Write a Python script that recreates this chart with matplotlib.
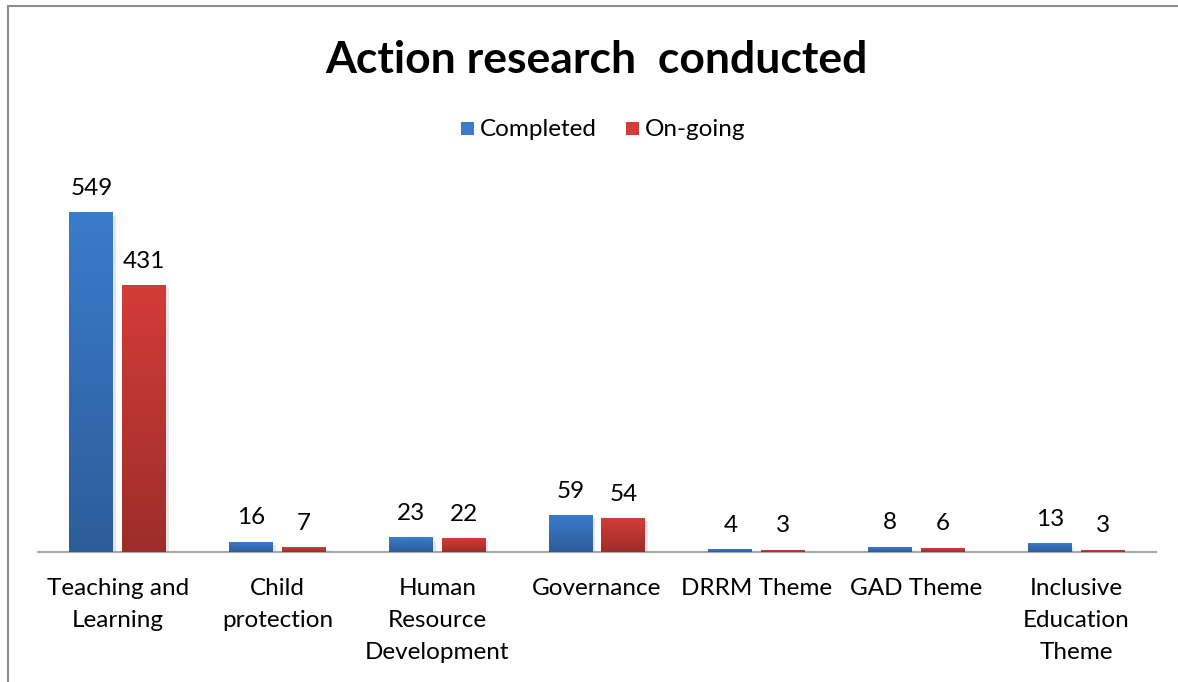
import numpy as np
import matplotlib
matplotlib.use("Agg")
import matplotlib.pyplot as plt
from matplotlib.colors import LinearSegmentedColormap
from matplotlib.patches import Rectangle
import matplotlib.patheffects as pe

plt.rcParams['font.family'] = ['Lato', 'DejaVu Sans']

categories = ["Teaching and\nLearning", "Child\nprotection", "Human\nResource\nDevelopment",
              "Governance", "DRRM Theme", "GAD Theme", "Inclusive\nEducation\nTheme"]
completed = [549, 16, 23, 59, 4, 8, 13]
ongoing = [431, 7, 22, 54, 3, 6, 3]

W, H = 1178, 682
fig = plt.figure(figsize=(W / 100, H / 100), dpi=100)
ax = fig.add_axes([38 / W, (H - 552) / H, (1156 - 38) / W, (552 - 180) / H])

# chart frame (cut off at right/bottom like the screenshot)
fig.patches.append(Rectangle((8 / W, -0.05), 1.1, 1 - 6 / H + 0.05, transform=fig.transFigure,
                             fill=False, edgecolor="#8c8c8c", lw=1.5))

x = np.arange(len(categories))
bw = 0.275
off = 0.1655

blue = LinearSegmentedColormap.from_list("b", ["#2c5d9a", "#3b7bcb"])
red = LinearSegmentedColormap.from_list("r", ["#9d2d2a", "#d23c38"])
grad = np.linspace(0, 1, 100).reshape(-1, 1)

shadow = [pe.SimplePatchShadow(offset=(2, -2), alpha=0.2, shadow_rgbFace="#888888")]
for vals, dx, cmap, c in [(completed, -off, blue, "#3b7bcb"), (ongoing, off, red, "#d23c38")]:
    bars = ax.bar(x + dx, vals, bw, color=c, path_effects=shadow, zorder=2)
    for b, v in zip(bars, vals):
        x0, h = b.get_x(), b.get_height()
        ax.imshow(grad, extent=[x0, x0 + b.get_width(), 0, h], origin="lower",
                  aspect="auto", cmap=cmap, zorder=3)
        ax.annotate(str(v), (x0 + b.get_width() / 2, h), xytext=(0, 10),
                    textcoords="offset points", ha="center", va="bottom", fontsize=17.5)

ax.set_xlim(-0.5, len(categories) - 0.5)
ax.set_ylim(0, 602)
ax.set_yticks([])
ax.set_xticks(x)
ax.set_xticklabels(categories, fontsize=17.5, linespacing=1.63, va="top")
ax.tick_params(axis="x", length=0, pad=19)
for s in ["top", "left", "right"]:
    ax.spines[s].set_visible(False)
ax.spines["bottom"].set_color("#a6a6a6")
ax.spines["bottom"].set_linewidth(1.5)

fig.text(596 / W, 1 - 60 / H, "Action research  conducted", ha="center", va="center",
         fontsize=32, fontweight="bold")

# legend
lx = [461, 626]
for px, lab, c in zip(lx, ["Completed", "On-going"], ["#3b7bcb", "#d23c38"]):
    fig.patches.append(Rectangle((px / W, 1 - 135 / H), 13 / W, 13 / H, transform=fig.transFigure,
                                 facecolor=c, edgecolor="none"))
    fig.text((px + 19) / W, 1 - 129 / H, lab, ha="left", va="center", fontsize=17.5)

fig.savefig("out.png", dpi=100)
